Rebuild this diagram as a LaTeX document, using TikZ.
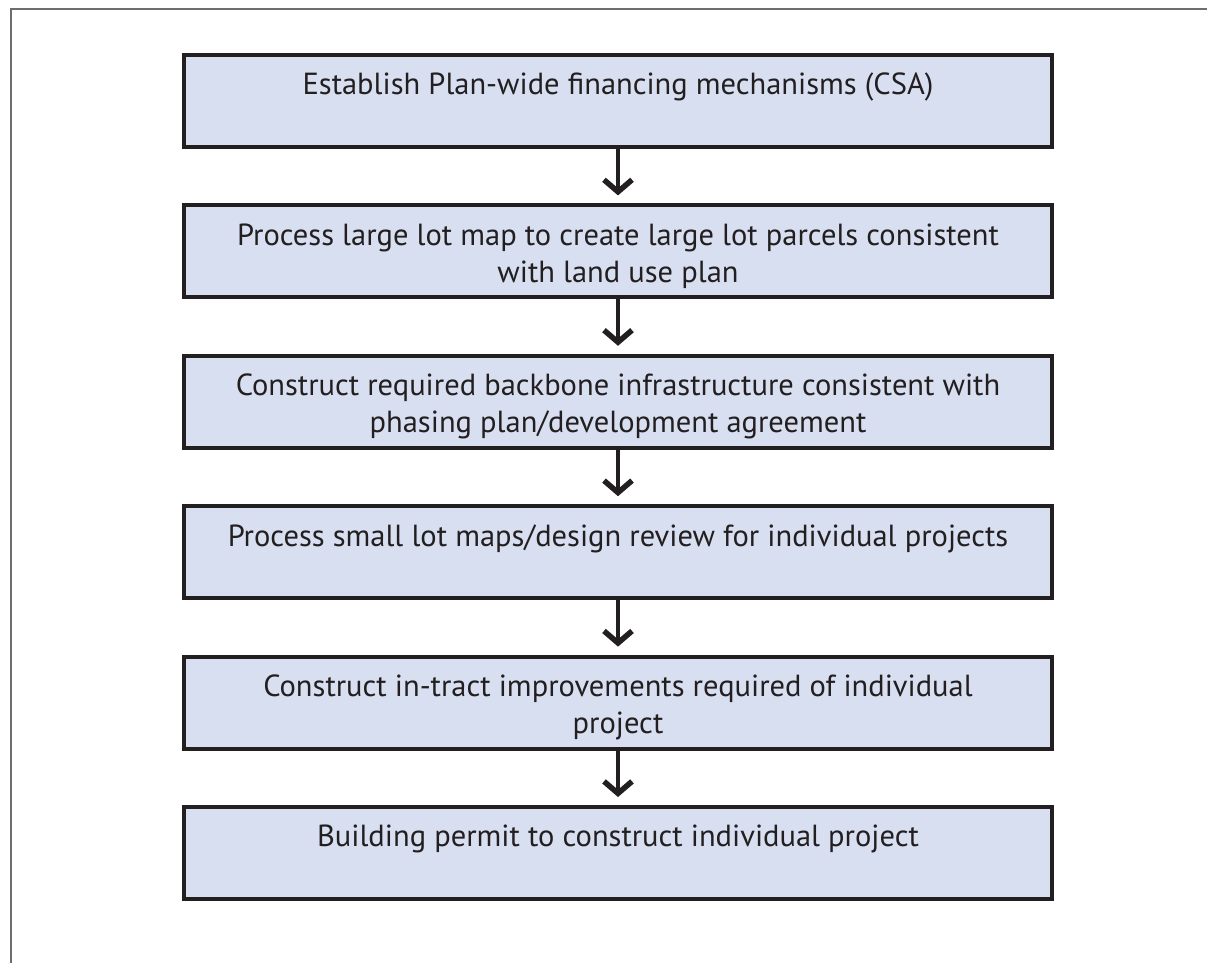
\documentclass[tikz,border=0pt]{standalone}
\usepackage{fontspec}
\setmainfont{PT Sans}
\usetikzlibrary{arrows.meta}
\definecolor{boxfill}{HTML}{D7DFF1}
\definecolor{boxline}{HTML}{231F20}
\definecolor{frameline}{HTML}{6D6D6D}
\tikzset{
  stepbox/.style={draw=boxline, fill=boxfill, line width=4pt, minimum width=868pt, minimum height=92pt, inner sep=0pt},
  steptext/.style={anchor=north, inner sep=0pt, align=center, font=\fontsize{30.5}{37}\selectfont, text=boxline},
  conn/.style={draw=boxline, line width=4pt, shorten >=8pt, -{Straight Barb[length=12pt,width=28pt,line width=5.5pt]}}
}
\begin{document}
\begin{tikzpicture}[x=1pt,y=-1pt]
\useasboundingbox (0,0) rectangle (1207,963);
\coordinate (fTR) at (1207,9);
\coordinate (fTL) at (11,9);
\coordinate (fBL) at (11,963);
\draw[frameline, line width=2pt] (fTR) -- (fTL) -- (fBL);
\foreach \i/\t in {1/{Establish Plan-wide financing mechanisms (CSA)},
                   2/{Process large lot map to create large lot parcels consistent\\with land use plan},
                   3/{Construct required backbone infrastructure consistent with\\phasing plan/development agreement},
                   4/{Process small lot maps/design review for individual projects},
                   5/{Construct in-tract improvements required of individual\\project},
                   6/{Building permit to construct individual project}}{
  \node[stepbox] (b\i) at (618,{101+150.4*(\i-1)}) {};
  \node[steptext] (t\i) at ([yshift=-20pt]b\i.north) {\t};
}
\foreach \i [evaluate=\i as \j using int(\i+1)] in {1,...,5}{
  \draw[conn] (b\i.south) -- (b\j.north);
}
\end{tikzpicture}
\end{document}
